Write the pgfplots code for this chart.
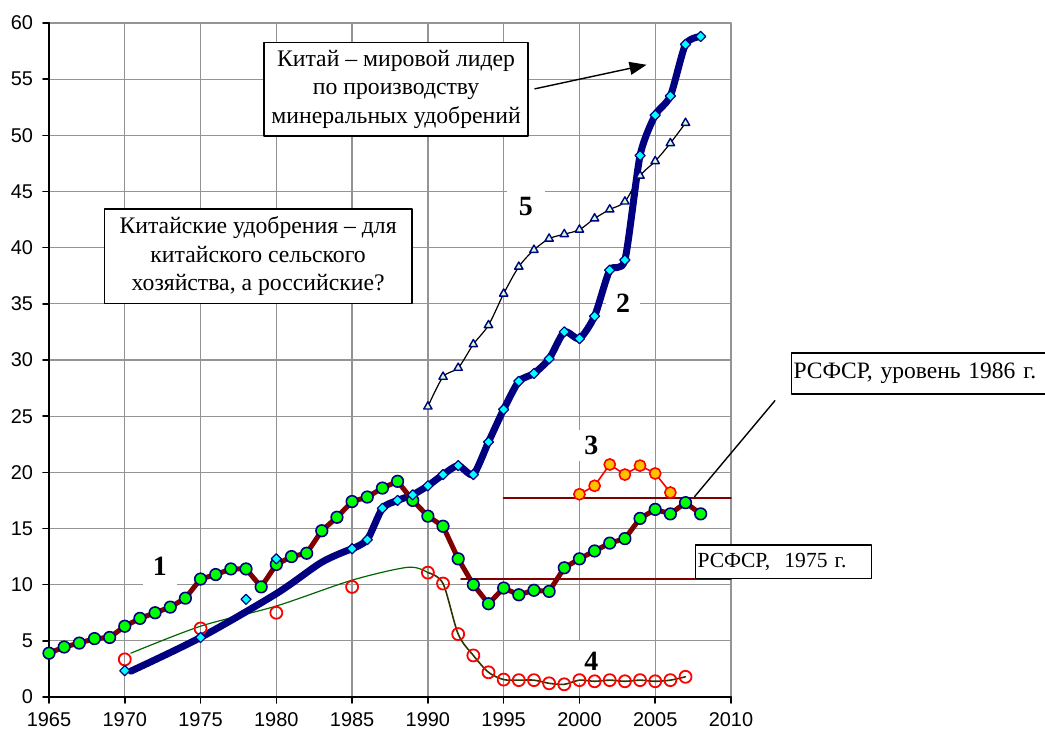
\documentclass[border=0pt]{standalone}
\usepackage{fontspec}
\setmainfont{Liberation Serif}
\newfontfamily\arialf{Liberation Sans}
\usepackage{pgfplots}
\pgfplotsset{compat=1.18}
\usetikzlibrary{arrows.meta}

\definecolor{maroon}{HTML}{800000}
\definecolor{navyb}{HTML}{000080}
\definecolor{limeg}{HTML}{00FF00}
\definecolor{cyanm}{HTML}{00FFFF}
\definecolor{goldm}{HTML}{FFC000}
\definecolor{trendg}{HTML}{006600}
\definecolor{olivek}{HTML}{333300}
\definecolor{trifill}{HTML}{CCFFCC}

\begin{document}
\begin{tikzpicture}
\begin{axis}[
  scale only axis, width=341bp, height=337bp,
  xmin=1965, xmax=2010, ymin=0, ymax=60,
  xtick={1965,1970,...,2010}, ytick={0,5,...,60},
  axis x line*=bottom, axis y line*=left,
  grid=major, major grid style={draw=black!42, line width=0.65bp},
  tick align=outside, major tick length=3bp,
  tick style={black, line width=0.8bp},
  axis line style={black, line width=1bp},
  ticklabel style={font=\arialf\fontsize{10}{12}\selectfont},
  /pgf/number format/assume math mode=true,
  xticklabel style={/pgf/number format/1000 sep={}, yshift=-1.2bp},
  yticklabel style={xshift=-1.5bp},
  clip=false,
  line cap=round, line join=round,
]
% number labels on white
\node[fill=white, inner xsep=5bp, inner ysep=5bp, font=\fontsize{14}{16}\selectfont\bfseries] at (axis cs:1972.32,11.6) {1};
\node[fill=white, inner xsep=5bp, inner ysep=5bp, font=\fontsize{14}{16}\selectfont\bfseries] at (axis cs:2002.88,35.05) {2};
\node[fill=white, inner xsep=5bp, inner ysep=3bp, font=\fontsize{14}{16}\selectfont\bfseries] at (axis cs:2000.79,22.37) {3};
\node[fill=white, inner xsep=5bp, inner ysep=6bp, font=\fontsize{14}{16}\selectfont\bfseries] at (axis cs:2000.79,3.14) {4};
\node[fill=white, inner xsep=6bp, inner ysep=5bp, font=\fontsize{14}{16}\selectfont\bfseries] at (axis cs:1996.47,43.7) {5};

% RSFSR levels
\addplot[maroon, line width=1bp] coordinates {(1995,17.75) (2010,17.75)};
\addplot[maroon, line width=1bp] coordinates {(1992.2,10.5) (2010,10.5)};

% trend line
\addplot[trendg, line width=0.6bp, smooth] coordinates {
  (1970.4,3.9) (1975,6.3) (1980,8.1) (1985,10.4) (1988.7,11.55) (1990,11.07)};
% series 4 line
\addplot[olivek, line width=0.8bp, smooth] coordinates {
  (1990,11.07) (1991,10.1) (1992,5.6) (1993,3.7) (1994,2.2) (1995,1.55)
  (1996,1.5) (1997,1.5) (1998,1.22) (1999,1.13) (2000,1.5) (2001,1.4)
  (2002,1.5) (2003,1.4) (2004,1.5) (2005,1.4) (2006,1.5) (2007,1.8)};
% series 4 marks
\addplot[only marks, mark=o, mark size=3bp, red, mark options={line width=0.9bp}] coordinates {
  (1970,3.35) (1975,6.1) (1980,7.5) (1985,9.8)
  (1990,11.07) (1991,10.1) (1992,5.6) (1993,3.7) (1994,2.2) (1995,1.55)
  (1996,1.5) (1997,1.5) (1998,1.22) (1999,1.13) (2000,1.5) (2001,1.4)
  (2002,1.5) (2003,1.4) (2004,1.5) (2005,1.4) (2006,1.5) (2007,1.8)};

% series 5
\addplot[black, line width=0.6bp, smooth, mark=triangle*, mark size=2.4bp,
  mark options={fill=trifill, draw=navyb, line width=0.7bp}] coordinates {
  (1990,25.85) (1991,28.5) (1992,29.3) (1993,31.4) (1994,33.1) (1995,35.9)
  (1996,38.3) (1997,39.8) (1998,40.8) (1999,41.2) (2000,41.6) (2001,42.6)
  (2002,43.4) (2003,44.1) (2004,46.4) (2005,47.7) (2006,49.3) (2007,51.1)};

% series 2 line
\addplot[navyb, line width=3.5bp, smooth] coordinates {
  (1970.4,2.3) (1975,5.3) (1980,9.2) (1983,12.0) (1985,13.2)};
\addplot[navyb, line width=3.5bp, smooth, tension=0.4] coordinates {
  (1985,13.2) (1986,14.0) (1987,16.8) (1988,17.5) (1989,18.0) (1990,18.8)
  (1991,19.8) (1992,20.6) (1993,19.8) (1994,22.7) (1995,25.6) (1996,28.1)
  (1997,28.8) (1998,30.1) (1999,32.5) (2000,31.9) (2001,33.9) (2002,38.0)
  (2003,38.9) (2004,48.2) (2005,51.8) (2006,53.5) (2007,58.1) (2008,58.8)};

% series 1
\addplot[maroon, line width=2.5bp, mark=*, mark size=2.9bp,
  mark options={fill=limeg, draw=navyb, line width=0.8bp}] coordinates {
  (1965,3.9) (1966,4.45) (1967,4.8) (1968,5.2) (1969,5.3) (1970,6.3)
  (1971,7.0) (1972,7.5) (1973,8.0) (1974,8.8) (1975,10.5) (1976,10.9)
  (1977,11.4) (1978,11.4) (1979,9.8) (1980,11.8) (1981,12.5) (1982,12.8)
  (1983,14.8) (1984,16.0) (1985,17.4) (1986,17.8) (1987,18.6) (1988,19.2)
  (1989,17.5) (1990,16.1) (1991,15.2) (1992,12.3) (1993,10.0) (1994,8.3)
  (1995,9.7) (1996,9.1) (1997,9.5) (1998,9.4) (1999,11.5) (2000,12.3)
  (2001,13.0) (2002,13.7) (2003,14.1) (2004,15.9) (2005,16.7) (2006,16.3)
  (2007,17.3) (2008,16.3)};

% series 2 diamonds
\addplot[only marks, mark=square*, mark size=1.8bp,
  mark options={rotate=45, fill=cyanm, draw=navyb, line width=0.6bp}] coordinates {
  (1970,2.34) (1975,5.3) (1978,8.7) (1980,12.3)
  (1985,13.2) (1986,14.0) (1987,16.8) (1988,17.5) (1989,18.0) (1990,18.8)
  (1991,19.8) (1992,20.6) (1993,19.8) (1994,22.7) (1995,25.6) (1996,28.1)
  (1997,28.8) (1998,30.1) (1999,32.5) (2000,31.9) (2001,33.9) (2002,38.0)
  (2003,38.9) (2004,48.2) (2005,51.8) (2006,53.5) (2007,58.1) (2008,58.8)};

% series 3
\addplot[red, line width=0.8bp, mark=*, mark size=2.8bp,
  mark options={fill=goldm, draw=red, line width=0.8bp}] coordinates {
  (2000,18.05) (2001,18.8) (2002,20.7) (2003,19.8) (2004,20.6) (2005,19.9) (2006,18.2)};

% text boxes
\node[draw, line width=0.8bp, fill=white, align=center, inner xsep=3.75bp, inner ysep=4bp,
  font=\fontsize{11.9}{14.2}\selectfont] at (axis cs:1987.9,54.1)
  {Китай – мировой лидер\\по производству\\минеральных удобрений};
\draw[line width=0.7bp, -{Triangle[length=8.5bp,width=6.5bp]}]
  (axis cs:1997.06,54.14) -- (axis cs:2004.43,56.28);
\node[draw, line width=0.8bp, fill=white, align=center, inner xsep=7.6bp, inner ysep=4bp,
  font=\fontsize{11.9}{14.2}\selectfont] at (axis cs:1978.8,39.25)
  {Китайские удобрения – для\\китайского сельского\\хозяйства, а российские?};
\draw[line width=0.7bp] (axis cs:2012.9,26.38) -- (axis cs:2007.6,17.84);
\node[draw, line width=0.8bp, fill=white, anchor=west, text width=127bp, inner xsep=1bp,
  minimum height=20.5bp, align=left, font=\fontsize{11.8}{14}\selectfont]
  at (axis cs:2013.94,28.82) {РСФСР, уровень 1986 г.};
\node[draw, line width=0.8bp, fill=white, anchor=west, text width=86bp, inner xsep=1bp,
  minimum height=16.7bp, align=left, font=\fontsize{10.8}{13}\selectfont]
  at (axis cs:2007.61,12.05) {РСФСР,\ \ 1975 г.};
\end{axis}
\pgfresetboundingbox
\path[use as bounding box] (-24.5bp,-17bp) rectangle (498bp,348.5bp);
\end{tikzpicture}
\end{document}
